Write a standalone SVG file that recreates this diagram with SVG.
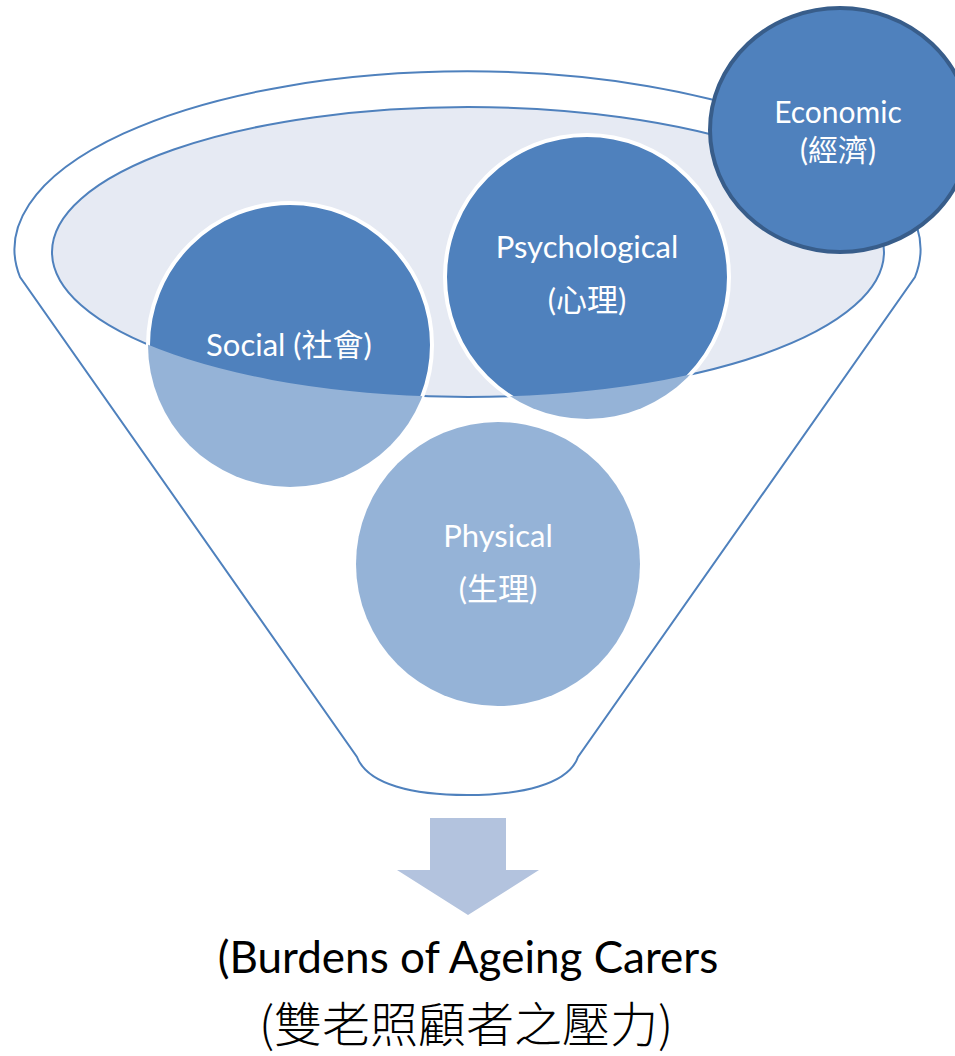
<svg xmlns="http://www.w3.org/2000/svg" width="955" height="1056" viewBox="0 0 955 1056">
  <style>
    .rim { fill: #ffffff; stroke: #4F81BD; stroke-width: 2; }
    .mouth { fill: #E6EAF3; stroke: #4F81BD; stroke-width: 2; }
    .ball { fill: #4F81BD; stroke: #ffffff; stroke-width: 4; }
    .ball-lower { fill: #95B3D7; }
    .econ { fill: #4F81BD; stroke: #385D8A; stroke-width: 4; }
    .label { font-family: Lato, "Noto Sans CJK TC", sans-serif; font-size: 31px; fill: #ffffff; text-anchor: middle; }
    .caption { font-family: Lato, "Noto Sans CJK TC", sans-serif; font-size: 44px; fill: #000000; text-anchor: middle; }
    .caption-cjk { font-family: "Noto Sans CJK TC", sans-serif; font-weight: 300; font-size: 48px; fill: #000000; text-anchor: middle; }
    .down { fill: #B3C3DE; }
  </style>
  <defs>
    <!-- everything outside the funnel mouth (used to lighten the lower half of the balls) -->
    <clipPath id="below-mouth">
      <path clip-rule="evenodd" d="M0,0 H955 V1056 H0 Z M52,252 A416,145 0 1,0 884,252 A416,145 0 1,0 52,252 Z"/>
    </clipPath>
  </defs>

  <!-- funnel body -->
  <g id="funnel">
    <path class="rim" d="M20,277 A453,178 0 1,1 915,277 L578,757 C568,785 520,795 467,795 C414,795 368,785 357,757 Z"/>
    <ellipse class="mouth" cx="468" cy="252" rx="416" ry="145"/>
  </g>

  <g id="connectors">
    <path class="down" d="M430,818 H506 V870 H539 L468,915 L397,870 H430 Z"/>
  </g>

  <g id="social">
    <circle class="ball" cx="290" cy="345" r="142"/>
    <circle class="ball-lower" cx="290" cy="345" r="142" clip-path="url(#below-mouth)"/>
    <text class="label" x="289" y="356">Social (社會)</text>
  </g>

  <g id="psychological">
    <circle class="ball" cx="587" cy="277" r="142"/>
    <circle class="ball-lower" cx="587" cy="277" r="142" clip-path="url(#below-mouth)"/>
    <text class="label" x="587" y="258">Psychological</text>
    <text class="label" x="587" y="311">(心理)</text>
  </g>

  <g id="physical">
    <circle class="ball-lower" cx="498" cy="564" r="142"/>
    <text class="label" x="498" y="547">Physical</text>
    <text class="label" x="498" y="600">(生理)</text>
  </g>

  <g id="economic">
    <ellipse class="econ" cx="840" cy="130" rx="130" ry="122"/>
    <text class="label" x="838" y="123" style="font-size:30px">Economic</text>
    <text class="label" x="838" y="161" style="font-size:30px">(經濟)</text>
  </g>

  <g id="caption">
    <text class="caption" x="468" y="973">(Burdens of Ageing Carers</text>
    <text class="caption-cjk" x="466" y="1042">(雙老照顧者之壓力)</text>
  </g>
</svg>
